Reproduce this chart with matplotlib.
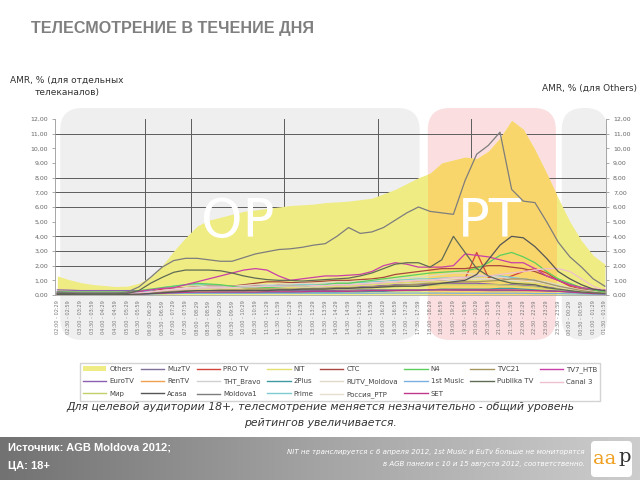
import matplotlib.pyplot as plt
import numpy as np
from matplotlib.patches import FancyBboxPatch, Rectangle, Patch
from matplotlib.transforms import IdentityTransform

# Получасовые интервалы, начиная с 02:00 (48 слотов)
slot_labels = []
for k in range(48):
    m0 = 120 + 30 * k
    m1 = m0 + 29
    slot_labels.append("%02d:%02d - %02d:%02d" % ((m0 // 60) % 24, m0 % 60, (m1 // 60) % 24, m1 % 60))

# AMR, % (Others - правая ось)
others = [1.3, 1.05, 0.85, 0.72, 0.65, 0.58, 0.6, 0.8, 1.25, 2.0, 3.0, 3.9, 4.7, 5.1, 5.3, 5.5,
          5.7, 5.8, 5.9, 6.0, 6.1, 6.15, 6.2, 6.3, 6.35, 6.4, 6.5, 6.6, 6.9, 7.2, 7.6, 8.0,
          8.3, 9.0, 9.2, 9.4, 9.3, 9.8, 10.7, 11.9, 11.3, 9.9, 8.3, 6.6, 5.0, 3.7, 2.7, 2.1]

moldova1 = [0.2, 0.15, 0.12, 0.1, 0.1, 0.12, 0.2, 0.55, 1.2, 1.9, 2.35, 2.5, 2.5, 2.4, 2.3, 2.3,
            2.55, 2.8, 2.95, 3.1, 3.15, 3.25, 3.4, 3.5, 4.0, 4.6, 4.2, 4.3, 4.6, 5.1, 5.6, 6.0,
            5.7, 5.6, 5.5, 7.8, 9.6, 10.2, 11.1, 7.2, 6.4, 6.3, 5.0, 3.6, 2.6, 1.9, 1.1, 0.6]
publika = [0.1, 0.1, 0.08, 0.08, 0.08, 0.08, 0.1, 0.3, 0.8, 1.2, 1.55, 1.7, 1.7, 1.7, 1.65, 1.5,
           1.3, 1.15, 1.05, 1.0, 1.0, 0.95, 1.0, 1.05, 1.1, 1.15, 1.3, 1.5, 1.8, 2.1, 2.2, 2.2,
           1.9, 2.4, 4.0, 2.9, 1.8, 1.3, 1.0, 0.8, 0.75, 0.7, 0.5, 0.4, 0.3, 0.2, 0.15, 0.1]
acasa = [0.05, 0.05, 0.05, 0.05, 0.05, 0.05, 0.05, 0.06, 0.1, 0.15, 0.2, 0.25, 0.3, 0.3, 0.3, 0.3,
         0.3, 0.3, 0.3, 0.35, 0.35, 0.4, 0.4, 0.4, 0.45, 0.45, 0.5, 0.5, 0.55, 0.6, 0.6, 0.6,
         0.7, 0.8, 0.9, 1.0, 1.4, 2.4, 3.4, 4.0, 3.9, 3.3, 2.5, 1.6, 1.1, 0.7, 0.4, 0.3]
n4 = [0.2, 0.2, 0.2, 0.2, 0.2, 0.2, 0.2, 0.3, 0.4, 0.5, 0.6, 0.7, 0.8, 0.75, 0.7, 0.6,
      0.5, 0.5, 0.5, 0.55, 0.6, 0.6, 0.65, 0.7, 0.8, 0.8, 0.9, 1.0, 1.1, 1.2, 1.3, 1.4,
      1.5, 1.55, 1.6, 1.65, 1.8, 2.2, 2.7, 2.9, 2.6, 2.2, 1.6, 1.1, 0.8, 0.5, 0.35, 0.2]
protv = [0.1, 0.1, 0.08, 0.08, 0.08, 0.08, 0.1, 0.2, 0.3, 0.4, 0.45, 0.5, 0.55, 0.6, 0.6, 0.6,
         0.6, 0.65, 0.7, 0.7, 0.65, 0.6, 0.6, 0.6, 0.65, 0.7, 0.7, 0.75, 0.8, 0.8, 0.85, 0.9,
         0.9, 0.95, 1.0, 1.1, 2.9, 1.2, 1.0, 1.3, 1.6, 1.8, 1.5, 1.0, 0.6, 0.4, 0.25, 0.15]
tv7 = [0.15, 0.15, 0.12, 0.12, 0.12, 0.12, 0.15, 0.25, 0.35, 0.45, 0.5, 0.7, 0.9, 1.1, 1.3, 1.5,
       1.7, 1.8, 1.7, 1.3, 1.0, 1.1, 1.2, 1.3, 1.3, 1.35, 1.4, 1.6, 2.0, 2.2, 2.1, 1.9,
       1.9, 1.9, 2.0, 2.8, 2.7, 2.6, 2.4, 2.2, 2.2, 1.8, 1.3, 1.0, 0.7, 0.5, 0.4, 0.35]
ctc = [0.1, 0.08, 0.06, 0.05, 0.05, 0.05, 0.06, 0.1, 0.2, 0.3, 0.4, 0.5, 0.55, 0.6, 0.6, 0.6,
       0.7, 0.8, 0.9, 0.9, 0.85, 0.85, 0.9, 0.95, 1.0, 1.0, 1.05, 1.1, 1.2, 1.4, 1.5, 1.6,
       1.7, 1.8, 1.8, 1.8, 1.9, 2.0, 2.0, 1.9, 1.8, 1.6, 1.3, 1.0, 0.7, 0.5, 0.3, 0.2]
eurotv = [0.35, 0.33, 0.3, 0.3, 0.3, 0.3, 0.3, 0.3, 0.3, 0.3, 0.35, 0.4, 0.4, 0.4, 0.45, 0.45,
          0.5, 0.5, 0.5, 0.5, 0.5, 0.5, 0.5, 0.55, 0.55, 0.6, 0.6, 0.6, 0.65, 0.7, 0.7, 0.7,
          0.75, 0.8, 0.8, 0.8, 0.8, 0.75, 0.7, 0.7, 0.65, 0.6, 0.55, 0.5, 0.45, 0.4, 0.35, 0.3]
muztv = [0.22, 0.2, 0.18, 0.18, 0.18, 0.18, 0.18, 0.2, 0.25, 0.28, 0.3, 0.3, 0.32, 0.32, 0.3, 0.3,
         0.3, 0.32, 0.33, 0.33, 0.32, 0.3, 0.3, 0.3, 0.32, 0.33, 0.35, 0.35, 0.35, 0.35, 0.35, 0.35,
         0.35, 0.35, 0.33, 0.32, 0.32, 0.3, 0.3, 0.3, 0.3, 0.3, 0.28, 0.26, 0.25, 0.24, 0.22, 0.2]
nit = [0.05, 0.05, 0.04, 0.04, 0.04, 0.04, 0.05, 0.1, 0.2, 0.3, 0.35, 0.4, 0.4, 0.4, 0.4, 0.45,
       0.5, 0.5, 0.5, 0.5, 0.5, 0.55, 0.55, 0.6, 0.6, 0.6, 0.65, 0.7, 0.75, 0.8, 0.85, 0.9,
       0.9, 0.9, 0.9, 0.95, 1.0, 1.0, 0.95, 0.9, 0.85, 0.8, 0.65, 0.5, 0.35, 0.25, 0.15, 0.1]
tvc21 = [0.05, 0.05, 0.05, 0.05, 0.05, 0.05, 0.05, 0.08, 0.15, 0.2, 0.25, 0.3, 0.3, 0.3, 0.35, 0.35,
         0.35, 0.4, 0.4, 0.4, 0.4, 0.4, 0.45, 0.45, 0.5, 0.5, 0.5, 0.55, 0.6, 0.65, 0.7, 0.75,
         0.8, 0.8, 0.85, 0.9, 0.9, 0.95, 1.0, 1.1, 1.1, 1.0, 0.8, 0.6, 0.45, 0.3, 0.2, 0.12]
rentv = [0.05, 0.05, 0.04, 0.04, 0.04, 0.04, 0.05, 0.08, 0.15, 0.2, 0.25, 0.3, 0.35, 0.4, 0.4, 0.4,
         0.45, 0.45, 0.5, 0.5, 0.5, 0.5, 0.55, 0.55, 0.6, 0.6, 0.65, 0.7, 0.75, 0.8, 0.85, 0.9,
         0.95, 1.0, 1.0, 1.0, 1.0, 1.05, 1.1, 1.1, 1.0, 0.9, 0.75, 0.6, 0.45, 0.3, 0.2, 0.12]
tht = [0.08, 0.08, 0.07, 0.07, 0.07, 0.07, 0.08, 0.1, 0.15, 0.2, 0.25, 0.3, 0.35, 0.4, 0.4, 0.45,
       0.5, 0.55, 0.55, 0.55, 0.5, 0.5, 0.5, 0.55, 0.6, 0.6, 0.65, 0.7, 0.75, 0.8, 0.8, 0.85,
       0.9, 0.95, 1.0, 1.0, 1.05, 1.1, 1.2, 1.2, 1.1, 1.0, 0.8, 0.6, 0.45, 0.3, 0.2, 0.12]
plus2 = [0.03, 0.03, 0.03, 0.03, 0.03, 0.03, 0.03, 0.05, 0.08, 0.1, 0.12, 0.15, 0.15, 0.15, 0.15, 0.15,
         0.15, 0.15, 0.18, 0.18, 0.18, 0.2, 0.2, 0.2, 0.2, 0.22, 0.22, 0.25, 0.25, 0.3, 0.3, 0.3,
         0.35, 0.4, 0.4, 0.4, 0.4, 0.4, 0.45, 0.45, 0.4, 0.35, 0.3, 0.25, 0.2, 0.12, 0.08, 0.05]
rutv = [0.1, 0.08, 0.07, 0.07, 0.07, 0.07, 0.08, 0.12, 0.2, 0.3, 0.4, 0.5, 0.55, 0.6, 0.6, 0.6,
        0.65, 0.7, 0.7, 0.75, 0.75, 0.8, 0.8, 0.85, 0.9, 0.9, 0.95, 1.0, 1.0, 1.1, 1.2, 1.2,
        1.3, 1.4, 1.5, 1.5, 1.4, 1.3, 1.2, 1.1, 1.1, 1.0, 0.9, 0.7, 0.5, 0.35, 0.25, 0.15]
music1 = [0.05, 0.05, 0.05, 0.05, 0.05, 0.05, 0.05, 0.06, 0.08, 0.1, 0.1, 0.12, 0.12, 0.12, 0.12, 0.12,
          0.12, 0.12, 0.12, 0.12, 0.12, 0.12, 0.12, 0.12, 0.12, 0.12, 0.12, 0.12, 0.13, 0.13, 0.13, 0.13,
          0.13, 0.13, 0.12, 0.12, 0.12, 0.12, 0.12, 0.12, 0.12, 0.1, 0.1, 0.1, 0.08, 0.07, 0.06, 0.05]
canal3 = [0.1, 0.1, 0.08, 0.08, 0.08, 0.08, 0.1, 0.12, 0.2, 0.3, 0.35, 0.4, 0.45, 0.5, 0.5, 0.5,
          0.55, 0.55, 0.6, 0.6, 0.6, 0.6, 0.65, 0.65, 0.7, 0.7, 0.75, 0.8, 0.85, 0.9, 0.95, 1.0,
          1.0, 1.1, 1.2, 1.2, 1.3, 1.3, 1.4, 1.5, 1.6, 1.7, 1.8, 1.8, 1.6, 1.1, 0.6, 0.3]
mir = [0.05, 0.05, 0.05, 0.05, 0.05, 0.05, 0.05, 0.08, 0.12, 0.18, 0.22, 0.25, 0.3, 0.3, 0.3, 0.3,
       0.3, 0.35, 0.35, 0.35, 0.35, 0.35, 0.4, 0.4, 0.4, 0.45, 0.45, 0.5, 0.5, 0.55, 0.6, 0.6,
       0.65, 0.7, 0.7, 0.7, 0.7, 0.7, 0.7, 0.65, 0.6, 0.55, 0.45, 0.35, 0.25, 0.18, 0.12, 0.08]
prime = [0.15, 0.12, 0.1, 0.1, 0.1, 0.1, 0.1, 0.15, 0.3, 0.5, 0.6, 0.7, 0.7, 0.7, 0.65, 0.6,
         0.6, 0.6, 0.65, 0.65, 0.7, 0.7, 0.7, 0.75, 0.8, 0.8, 0.85, 0.9, 0.95, 1.0, 1.05, 1.1,
         1.1, 1.15, 1.2, 1.2, 1.25, 1.3, 1.3, 1.2, 1.1, 1.0, 0.8, 0.6, 0.45, 0.3, 0.2, 0.15]
rtr = [0.1, 0.08, 0.07, 0.07, 0.07, 0.07, 0.08, 0.1, 0.2, 0.3, 0.4, 0.45, 0.5, 0.5, 0.5, 0.5,
       0.5, 0.55, 0.55, 0.55, 0.6, 0.6, 0.6, 0.65, 0.7, 0.7, 0.75, 0.8, 0.85, 0.9, 0.95, 1.0,
       1.0, 1.05, 1.1, 1.1, 1.1, 1.1, 1.05, 1.0, 0.95, 0.9, 0.75, 0.55, 0.4, 0.3, 0.2, 0.12]
set_tv = [0.05, 0.05, 0.04, 0.04, 0.04, 0.04, 0.05, 0.06, 0.1, 0.12, 0.15, 0.18, 0.2, 0.2, 0.2, 0.2,
          0.2, 0.2, 0.22, 0.22, 0.22, 0.22, 0.25, 0.25, 0.25, 0.25, 0.28, 0.3, 0.3, 0.3, 0.32, 0.32,
          0.35, 0.35, 0.35, 0.35, 0.35, 0.35, 0.35, 0.35, 0.32, 0.3, 0.28, 0.25, 0.2, 0.15, 0.1, 0.08]

# канал, данные, цвет (порядок легенды: по колонкам)
channels = [
    ("EuroTV", eurotv, "#8a5fb0"), ("Мир", mir, "#c2d06a"),
    ("MuzTV", muztv, "#7f6f99"), ("RenTV", rentv, "#f0a050"), ("Acasa", acasa, "#555555"),
    ("PRO TV", protv, "#d0443c"), ("THT_Bravo", tht, "#d0d0d0"), ("Moldova1", moldova1, "#7d7d7d"),
    ("NIT", nit, "#e3e070"), ("2Plus", plus2, "#3f9aa0"), ("Prime", prime, "#7ecad0"),
    ("CTC", ctc, "#a8473f"), ("RUTV_Moldova", rutv, "#e0d8c8"), ("Россия_РТР", rtr, "#e6dfd0"),
    ("N4", n4, "#5ccf5c"), ("1st Music", music1, "#7ab0e0"), ("SET", set_tv, "#c0388a"),
    ("TVC21", tvc21, "#a59660"), ("Publika TV", publika, "#5f6b55"),
    ("TV7_HTB", tv7, "#c83fa8"), ("Canal 3", canal3, "#eebfd0"),
]

W, H = 640, 480
fig = plt.figure(figsize=(6.4, 4.8), dpi=100)
fig.patch.set_facecolor("white")

ax = fig.add_axes([55 / W, 1 - 295 / H, 551 / W, 176 / H])
ax.set_xlim(-0.2, 47.1)
ax.set_ylim(0, 12)
ax.patch.set_visible(False)

x = np.arange(len(others))


def px(xd):
    return ax.transData.transform((xd, 0))[0]


# подложки: off-prime (серые) и prime time (розовая)
for x0, x1, col in [(0.25, 31.1, "#efefef"), (31.8, 42.8, "#fbdfe0"), (43.3, 47.2, "#efefef")]:
    p0, p1 = px(x0), px(x1)
    bg = FancyBboxPatch((p0, H - 340), p1 - p0, 232, boxstyle="round,pad=0,rounding_size=22",
                        transform=IdentityTransform(), facecolor=col, edgecolor="none", zorder=-5)
    fig.add_artist(bg)

# сетка
for g in [2, 3, 4, 6, 7, 8, 11]:
    ax.axhline(g, color="#5c5c5c", lw=0.7, zorder=1)
for g in [7.5, 11.5, 19.5, 27.5, 35.5]:
    ax.axvline(g, color="#5c5c5c", lw=0.7, zorder=1)

# Others
ax.fill_between(x, others, color="#f0ec84", lw=0, zorder=1.5)
pt = ax.fill_between(x, others, color="#f9d66c", lw=0, zorder=1.6)
pt.set_clip_path(Rectangle((31.8, 0), 11.0, 13, transform=ax.transData))

ax.text(15.5, 5.0, "OP", color="white", fontsize=38, ha="center", va="center", zorder=2)
ax.text(37.1, 5.0, "PT", color="white", fontsize=38, ha="center", va="center", zorder=2)

for name, vals, col in channels:
    z = 4 if name in ("Moldova1", "Publika TV", "Acasa") else 3
    ax.plot(x, vals, color=col, lw=0.9, zorder=z)

ticks = list(range(13))
ax.set_yticks(ticks)
ax.set_yticklabels(["%d,00" % t for t in ticks], fontsize=4.5, color="#666666")
ax.set_xticks(x)
ax.set_xticklabels(slot_labels, rotation=90, fontsize=3.6, color="#777777")
ax.tick_params(axis="x", length=0, pad=4)
ax.tick_params(axis="y", length=2, width=0.5, color="#888888", pad=3)
for s in ["top", "right"]:
    ax.spines[s].set_visible(False)
ax.spines["left"].set_color("#999999")
ax.spines["bottom"].set_color("#aaaaaa")
ax.spines["left"].set_linewidth(0.6)
ax.spines["bottom"].set_linewidth(0.6)

ax2 = ax.twinx()
ax2.set_ylim(0, 12)
ax2.patch.set_visible(False)
ax2.set_yticks(ticks)
ax2.set_yticklabels(["%d,00" % t for t in ticks], fontsize=4.5, color="#666666")
ax2.tick_params(axis="y", length=2, width=0.5, color="#888888", pad=3)
for s in ["top", "left", "bottom"]:
    ax2.spines[s].set_visible(False)
ax2.spines["right"].set_color("#999999")
ax2.spines["right"].set_linewidth(0.6)

# легенда
handles = [Patch(facecolor="#f0ec84", edgecolor="none")]
labels = ["Others"]
for name, vals, col in channels:
    handles.append(plt.Line2D([], [], color=col, lw=1))
    labels.append(name)
leg = fig.legend(handles, labels, loc="lower left", ncol=8, mode="expand",
                 bbox_to_anchor=(80 / W, 1 - 401 / H, 520 / W, 45 / H), fontsize=5,
                 frameon=True, fancybox=False, edgecolor="#c8c8c8", handlelength=3.4,
                 labelspacing=0.9, borderaxespad=0, handletextpad=0.4)
for t in leg.get_texts():
    t.set_color("#444444")

# тексты
fig.text(31 / W, 1 - 28 / H, "ТЕЛЕСМОТРЕНИЕ В ТЕЧЕНИЕ ДНЯ", fontsize=11.6, fontweight="bold",
         color="#7f7f7f", family="Liberation Sans", va="center")
fig.text(10 / W, 1 - 80 / H, "AMR, % (для отдельных", fontsize=6.5, color="#333333", va="center")
fig.text(35 / W, 1 - 92 / H, "телеканалов)", fontsize=6.5, color="#333333", va="center")
fig.text(637 / W, 1 - 88 / H, "AMR, % (для Others)", fontsize=6.5, color="#333333",
         va="center", ha="right")
fig.text(320 / W, 1 - 407 / H, "Для целевой аудитории 18+, телесмотрение меняется незначительно - общий уровень",
         fontsize=7.8, style="italic", color="#333333", ha="center", va="center")
fig.text(320 / W, 1 - 423 / H, "рейтингов увеличивается.",
         fontsize=7.8, style="italic", color="#333333", ha="center", va="center")

# нижняя плашка
fax = fig.add_axes([0, 0, 1, 43 / H])
grad = np.linspace(0, 1, 256).reshape(1, -1)
fax.imshow(grad, aspect="auto", cmap=plt.matplotlib.colors.LinearSegmentedColormap.from_list(
    "g", ["#727272", "#a4a4a4", "#cdcdcd"]), extent=[0, 1, 0, 1])
fax.set_xlim(0, 1)
fax.set_ylim(0, 1)
fax.axis("off")
fig.text(8 / W, 1 - 448 / H, "Источник: AGB Moldova 2012;", fontsize=8, fontweight="bold",
         color="white", family="Liberation Sans", va="center")
fig.text(8 / W, 1 - 466 / H, "ЦА: 18+", fontsize=8, fontweight="bold",
         color="white", family="Liberation Sans", va="center")
fig.text(585 / W, 1 - 452 / H,
         "NIT не транслируется с 6 апреля 2012, 1st Music и EuTv больше не мониторятся",
         fontsize=5, style="italic", color="white", ha="right", va="center")
fig.text(585 / W, 1 - 464 / H, "в AGB панели с 10 и 15 августа 2012, соответственно.",
         fontsize=5, style="italic", color="white", ha="right", va="center")

logo = FancyBboxPatch((591, H - 477), 41, 36, boxstyle="round,pad=0,rounding_size=4",
                      transform=IdentityTransform(), facecolor="white", edgecolor="none", zorder=5)
fig.add_artist(logo)
fig.text(593 / W, 1 - 459 / H, "aa", fontsize=14, color="#f0a020", family="DejaVu Serif",
         ha="left", va="center", zorder=6)
fig.text(631 / W, 1 - 457 / H, "p", fontsize=14, color="#333333", family="DejaVu Serif",
         ha="right", va="center", zorder=6)

fig.savefig("out.png", dpi=100)
